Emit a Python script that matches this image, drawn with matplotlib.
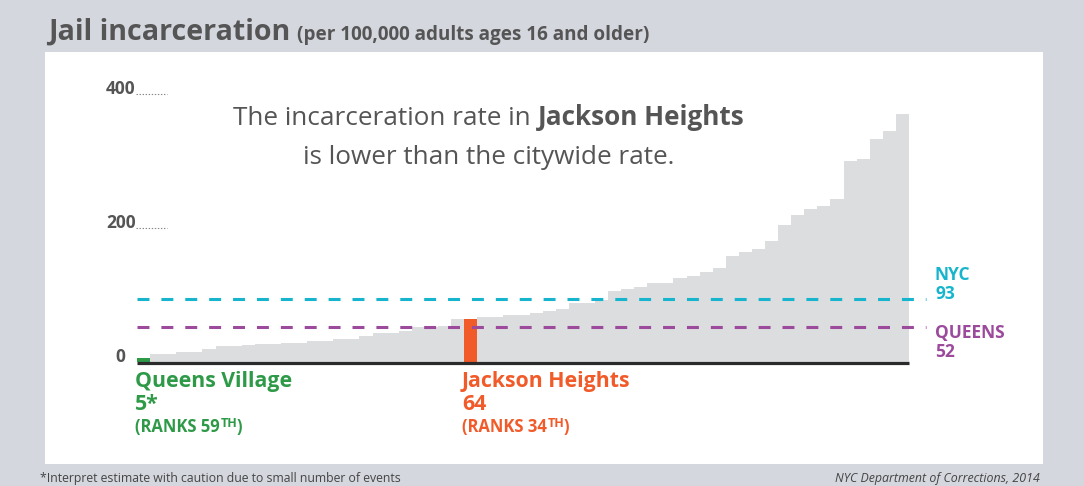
import matplotlib
matplotlib.use('Agg')
import matplotlib.pyplot as plt
from matplotlib.patches import Rectangle

# jail incarceration rate per 100,000, 59 community districts, sorted low -> high
rates = [5, 11, 11, 14, 14, 19, 24, 24, 25, 27,
         27, 28, 28, 31, 31, 34, 34, 38, 43, 43,
         46, 52, 52, 54, 63, 64, 66, 66, 69, 70,
         73, 75, 79, 87, 87, 92, 105, 109, 111, 117,
         117, 125, 128, 134, 140, 158, 163, 168, 180, 204,
         219, 228, 232, 243, 300, 303, 333, 345, 369]
low_idx = 0    # Queens Village
jh_idx = 25    # Jackson Heights
nyc_rate = 93
queens_rate = 52
y_ticks = [200, 400]

GREEN = '#2e9a48'
ORANGE = '#f15a29'
CYAN = '#17b5cd'
PURPLE = '#9c4a9c'
GREY_TXT = '#555555'
FONT = 'Open Sans'

plt.rcParams['font.family'] = FONT
plt.rcParams['lines.scale_dashes'] = False

W, H = 1084, 486
fig = plt.figure(figsize=(W / 100, H / 100), dpi=100)
fig.patch.set_facecolor('#d4d7de')


def fx(x):
    return x / W


def fy(y):
    return 1 - y / H


# white panel
fig.patches.append(Rectangle((fx(45), fy(464)), fx(1043) - fx(45), fy(52) - fy(464),
                             transform=fig.transFigure, facecolor='white', edgecolor='none',
                             zorder=-10))

ax = fig.add_axes([fx(137), fy(361.7), fx(909) - fx(137), fy(93.7) - fy(361.7)])
ax.set_zorder(5)
ax.set_xlim(0, len(rates))
ax.set_ylim(0, 400)
ax.axis('off')

colors = ['#dcdddf'] * len(rates)
colors[low_idx] = GREEN
colors[jh_idx] = ORANGE
ax.bar(range(len(rates)), rates, width=1, align='edge', color=colors, linewidth=0, zorder=1)

# baseline
ax.plot([0, len(rates)], [-1.5, -1.5], color='#2b2b2b', lw=2.3, solid_capstyle='butt',
        clip_on=False, zorder=4)

# reference lines
ax.plot([0, 60.3], [nyc_rate, nyc_rate], color=CYAN, lw=2.2, dashes=(8.6, 8.6),
        clip_on=False, zorder=3)
ax.plot([0, 60.3], [queens_rate, queens_rate], color=PURPLE, lw=2.2, dashes=(8.6, 8.6),
        clip_on=False, zorder=3)

# y tick labels with dotted leaders
for v in y_ticks:
    ax.plot([-0.08, 2.3], [v, v], color='#888888', lw=0.8, ls=(0, (1, 1.2)), clip_on=False)
    ax.text(-0.12, v, str(v), ha='right', va='baseline', fontsize=12.5, fontweight='bold',
            color=GREY_TXT)
ax.text(-0.9, 0, '0', ha='right', va='baseline', fontsize=12.5, fontweight='bold',
        color=GREY_TXT)

renderer = fig.canvas.get_renderer()


def run_text(x, y, pieces, **kw):
    # place text pieces one after another, left to right, starting at pixel x
    out = []
    for s, st in pieces:
        st = dict(st)
        rise = st.pop('rise', 0)
        gap = st.pop('gap', 0)
        t = fig.text(fx(x), fy(y - rise), s, **kw, **st)
        x += t.get_window_extent(renderer).width + gap
        out.append(t)
    return out, x


# title
tt = fig.text(fx(48), fy(40), 'Jail incarceration', fontsize=20.6, fontweight='bold',
              color=GREY_TXT, va='baseline')
x_end = 48 + tt.get_window_extent(renderer).width
fig.text(fx(x_end + 7), fy(40), '(per 100,000 adults ages 16 and older)', fontsize=13.6,
         fontweight='bold', color=GREY_TXT, va='baseline')

# headline, centred
line1, x1 = run_text(0, 125, [('The incarceration rate in ', {}),
                              ('Jackson Heights', {'fontweight': 'bold'})],
                     fontsize=18.8, color=GREY_TXT, va='baseline')
shift = 489 - x1 / 2
for t in line1:
    px, py = t.get_position()
    t.set_position((px + fx(shift), py))
fig.text(fx(489), fy(164), 'is lower than the citywide rate.', fontsize=18.8, color=GREY_TXT,
         va='baseline', ha='center')

# reference line labels
for lab, val, col, yy in [('NYC', nyc_rate, CYAN, 280), ('QUEENS', queens_rate, PURPLE, 338)]:
    fig.text(fx(935), fy(yy), lab, fontsize=12.5, fontweight='bold', color=col, va='baseline')
    fig.text(fx(935), fy(yy + 19), str(val), fontsize=12.5, fontweight='bold', color=col,
             va='baseline')

# highlighted bars
for name, val, rank, col, x0, star in [('Queens Village', rates[low_idx], 59, GREEN, 135, '*'),
                                       ('Jackson Heights', rates[jh_idx], 34, ORANGE, 462, '')]:
    fig.text(fx(x0), fy(387), name, fontsize=15.3, fontweight='bold', color=col, va='baseline')
    fig.text(fx(x0), fy(410), f'{val}{star}', fontsize=15.3, fontweight='bold', color=col,
             va='baseline')
    run_text(x0, 432, [(f'(RANKS {rank}', {'fontsize': 12, 'gap': 1}),
                       ('TH', {'fontsize': 9, 'rise': 5, 'gap': -1}),
                       (')', {'fontsize': 12})],
             fontweight='bold', color=col, va='baseline')

# footer
fig.text(fx(40), fy(482), '*Interpret estimate with caution due to small number of events',
         fontsize=8.8, color='#444444', va='baseline')
fig.text(fx(1040), fy(482), 'NYC Department of Corrections, 2014', fontsize=8.9, style='italic',
         color='#444444', va='baseline', ha='right')

fig.savefig('out.png', dpi=100, facecolor=fig.get_facecolor())
